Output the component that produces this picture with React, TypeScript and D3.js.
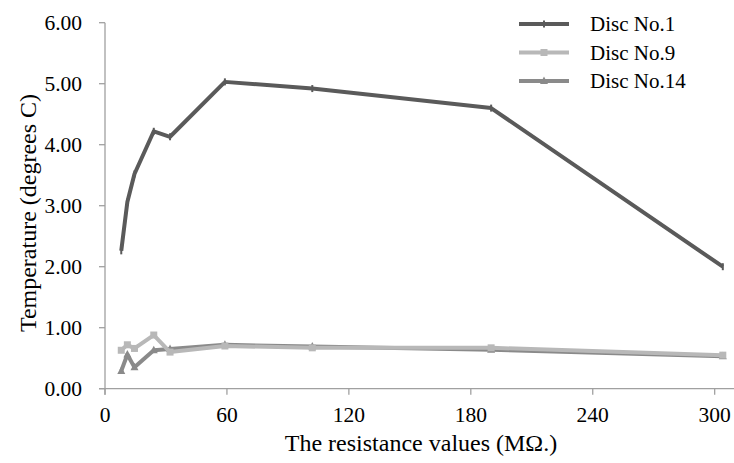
import React from "react";
import * as d3 from "d3";

const resistance1 = [8, 11, 14.5, 24, 32, 59, 102, 190, 304];
const disc1 = [2.26, 3.06, 3.52, 4.22, 4.13, 5.03, 4.92, 4.6, 2.0];
const resistance9 = [8, 11, 14.5, 24, 32, 59, 102, 190, 304];
const disc9 = [0.63, 0.72, 0.66, 0.88, 0.6, 0.7, 0.67, 0.67, 0.55];
const resistance14 = [8, 11, 14.5, 24, 32, 59, 102, 190, 304];
const disc14 = [0.29, 0.56, 0.35, 0.63, 0.65, 0.72, 0.69, 0.64, 0.53];
const xTicks = [0, 60, 120, 180, 240, 300];
const yTicks = [0, 1, 2, 3, 4, 5, 6];
const seriesNames = ["Disc No.1", "Disc No.9", "Disc No.14"];

const FONT = "Liberation Serif, Tinos, Times New Roman, DejaVu Serif, serif";

export default function App() {
  const W = 734, H = 463;
  const x = d3.scaleLinear().domain([0, 310]).range([105, 735]);
  const y = d3.scaleLinear().domain([0, 6]).range([388.7, 22.7]);
  const line = d3.line<[number, number]>().x(d => x(d[0])).y(d => y(d[1]));

  const series = [
    { name: seriesNames[0], xs: resistance1, ys: disc1, color: "#5a5a5a", marker: "tick" },
    { name: seriesNames[1], xs: resistance9, ys: disc9, color: "#b8b8b8", marker: "square" },
    { name: seriesNames[2], xs: resistance14, ys: disc14, color: "#8a8a8a", marker: "triangle" },
  ];

  const drawMarker = (m: string, cx: number, cy: number, color: string, key: string) => {
    if (m === "square") return <rect key={key} x={cx - 3.5} y={cy - 3.5} width={7} height={7} fill={color} />;
    if (m === "triangle") return <path key={key} d={`M${cx},${cy - 4.5}L${cx + 4},${cy + 3}L${cx - 4},${cy + 3}Z`} fill={color} />;
    return <rect key={key} x={cx - 1} y={cy - 3.5} width={2} height={7} fill={color} />;
  };

  const axisColor = "#a0a0a0";
  const ts = { fontFamily: FONT };

  return (
    <svg width={W} height={H} style={{ position: "absolute", left: 0, top: 0, background: "#fff", fontFamily: FONT }}>
      <line x1={105} x2={105} y1={y(6)} y2={y(0) + 6} stroke={axisColor} strokeWidth={1.3} />
      {yTicks.map(t => (
        <g key={"y" + t}>
          <line x1={99} x2={105} y1={y(t)} y2={y(t)} stroke={axisColor} strokeWidth={1.3} />
          <text style={ts} x={82} y={y(t)} dy="0.34em" textAnchor="end" fontSize={21.5} fill="#000">{t.toFixed(2)}</text>
        </g>
      ))}
      <line x1={99} x2={734} y1={y(0)} y2={y(0)} stroke={axisColor} strokeWidth={1.3} />
      {xTicks.map(t => (
        <g key={"x" + t}>
          <line x1={x(t)} x2={x(t)} y1={y(0)} y2={y(0) + 6} stroke={axisColor} strokeWidth={1.3} />
          <text style={ts} x={x(t)} y={421.5} textAnchor="middle" fontSize={21.5} fill="#000">{t}</text>
        </g>
      ))}
      <text style={ts} x={421} y={451} textAnchor="middle" fontSize={24} fill="#000">The resistance values (MΩ.)</text>
      <text style={ts} transform={`translate(36,213) rotate(-90)`} textAnchor="middle" fontSize={24} fill="#000">Temperature (degrees C)</text>

      {series.map(s => {
        const pts = s.xs.map((v, j) => [v, s.ys[j]] as [number, number]);
        return (
          <g key={s.name}>
            <path d={line(pts) || ""} fill="none" stroke={s.color} strokeWidth={4} strokeLinejoin="round" />
            {pts.map((p, j) => drawMarker(s.marker, x(p[0]), y(p[1]), s.color, s.name + j))}
          </g>
        );
      }).reverse()}

      {series.map((s, i) => {
        const ly = 24 + i * 28.5;
        return (
          <g key={"lg" + i}>
            <line x1={519} x2={569} y1={ly} y2={ly} stroke={s.color} strokeWidth={4} />
            {drawMarker(s.marker, 544, ly, s.color, "lm" + i)}
            <text style={ts} x={590} y={ly} dy="0.34em" fontSize={21} fill="#000">{s.name}</text>
          </g>
        );
      })}
    </svg>
  );
}
